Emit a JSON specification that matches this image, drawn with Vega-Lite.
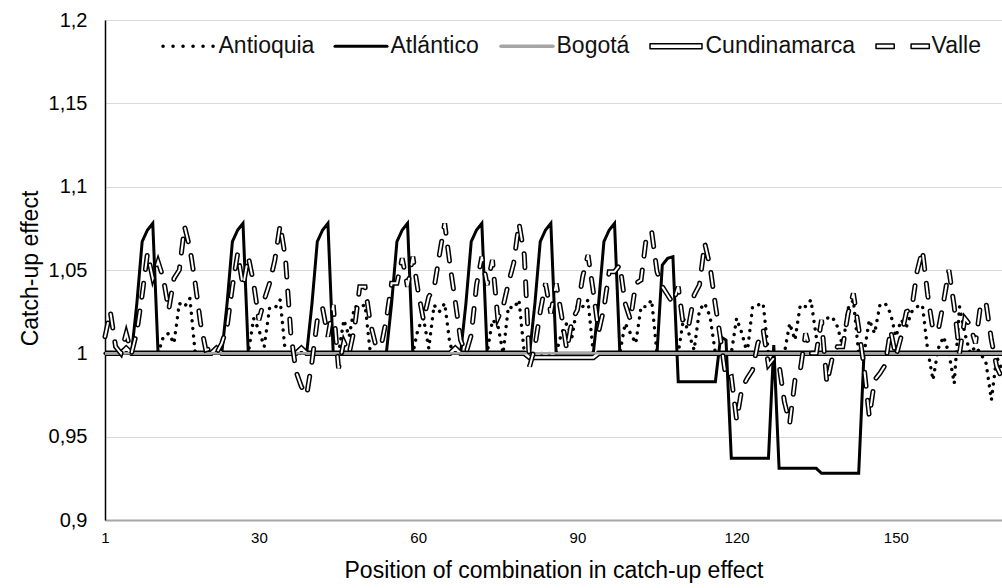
{
"$schema":"https://vega.github.io/schema/vega-lite/v6.json",
"width":897,"height":500,
"autosize":{"type":"none"},
"padding":{"left":105,"top":20,"right":0,"bottom":68},
"background":"white",
"config":{"view":{"stroke":null},"font":"Liberation Sans"},
"data":{"values":[
{"p":1,"An":1,"At":1,"Bo":1,"Cu":1,"Va":1.010},
{"p":2,"An":1,"At":1,"Bo":1,"Cu":1,"Va":1.025},
{"p":3,"An":1,"At":1,"Bo":1,"Cu":1,"Va":1.004},
{"p":4,"An":1,"At":1,"Bo":1,"Cu":1,"Va":1.000},
{"p":5,"An":1,"At":1,"Bo":1,"Cu":1.003,"Va":1.012},
{"p":6,"An":1,"At":1,"Bo":1,"Cu":1,"Va":1.000},
{"p":7,"An":1,"At":1.03,"Bo":1,"Cu":1,"Va":1.013},
{"p":8,"An":1,"At":1.067,"Bo":1,"Cu":1,"Va":1.035},
{"p":9,"An":1,"At":1.074,"Bo":1,"Cu":1,"Va":1.060},
{"p":10,"An":1,"At":1.078,"Bo":1,"Cu":1,"Va":1.045},
{"p":11,"An":1,"At":1,"Bo":1,"Cu":1,"Va":1.055},
{"p":12,"An":1.010,"At":1,"Bo":1,"Cu":1,"Va":1.045},
{"p":13,"An":1.012,"At":1,"Bo":1,"Cu":1,"Va":1.026},
{"p":14,"An":1.006,"At":1,"Bo":1,"Cu":1,"Va":1.045},
{"p":15,"An":1.030,"At":1,"Bo":1,"Cu":1,"Va":1.050},
{"p":16,"An":1.028,"At":1,"Bo":1,"Cu":1,"Va":1.076},
{"p":17,"An":1.033,"At":1,"Bo":1,"Cu":1,"Va":1.063},
{"p":18,"An":1,"At":1,"Bo":1,"Cu":1,"Va":1.042},
{"p":19,"An":1,"At":1,"Bo":1,"Cu":1,"Va":1.018},
{"p":20,"An":1,"At":1,"Bo":1,"Cu":1,"Va":1.002},
{"p":21,"An":1,"At":1,"Bo":1,"Cu":1,"Va":1.003},
{"p":22,"An":1,"At":1,"Bo":1,"Cu":1.003,"Va":1.000},
{"p":23,"An":1,"At":1,"Bo":1,"Cu":1,"Va":1.006},
{"p":24,"An":1,"At":1.03,"Bo":1,"Cu":1,"Va":1.016},
{"p":25,"An":1,"At":1.067,"Bo":1,"Cu":1,"Va":1.040},
{"p":26,"An":1,"At":1.074,"Bo":1,"Cu":1,"Va":1.060},
{"p":27,"An":1,"At":1.078,"Bo":1,"Cu":1,"Va":1.040},
{"p":28,"An":1,"At":1,"Bo":1,"Cu":1,"Va":1.058},
{"p":29,"An":1.021,"At":1,"Bo":1,"Cu":1,"Va":1.042},
{"p":30,"An":1.014,"At":1,"Bo":1,"Cu":1,"Va":1.020},
{"p":31,"An":1.004,"At":1,"Bo":1,"Cu":1,"Va":1.032},
{"p":32,"An":1.027,"At":1,"Bo":1,"Cu":1,"Va":1.042},
{"p":33,"An":1.027,"At":1,"Bo":1,"Cu":1,"Va":1.056},
{"p":34,"An":1.032,"At":1,"Bo":1,"Cu":1,"Va":1.077},
{"p":35,"An":1,"At":1,"Bo":1,"Cu":1,"Va":1.057},
{"p":36,"An":1,"At":1,"Bo":1,"Cu":1,"Va":1.012},
{"p":37,"An":1,"At":1,"Bo":1,"Cu":1,"Va":0.989},
{"p":38,"An":1,"At":1,"Bo":1,"Cu":1.003,"Va":0.980},
{"p":39,"An":1,"At":1,"Bo":1,"Cu":1,"Va":0.975},
{"p":40,"An":1,"At":1.03,"Bo":1,"Cu":1,"Va":0.995},
{"p":41,"An":1,"At":1.067,"Bo":1,"Cu":1,"Va":1.020},
{"p":42,"An":1,"At":1.074,"Bo":1,"Cu":1,"Va":1.027},
{"p":43,"An":1,"At":1.078,"Bo":1,"Cu":1,"Va":1.010},
{"p":44,"An":1,"At":1,"Bo":1,"Cu":1,"Va":1.029},
{"p":45,"An":1,"At":1,"Bo":1,"Cu":1,"Va":0.991},
{"p":46,"An":1.020,"At":1,"Bo":1,"Cu":1,"Va":1.007},
{"p":47,"An":1.010,"At":1,"Bo":1,"Cu":1,"Va":1.000},
{"p":48,"An":1.028,"At":1,"Bo":1,"Cu":1,"Va":1.015},
{"p":49,"An":1.028,"At":1,"Bo":1,"Cu":1,"Va":1.040},
{"p":50,"An":1.029,"At":1,"Bo":1,"Cu":1,"Va":1.040},
{"p":51,"An":1,"At":1,"Bo":1,"Cu":1,"Va":1.018},
{"p":52,"An":1,"At":1,"Bo":1,"Cu":1,"Va":1.005},
{"p":53,"An":1,"At":1,"Bo":1,"Cu":1,"Va":1.004},
{"p":54,"An":1,"At":1,"Bo":1,"Cu":1,"Va":1.020},
{"p":55,"An":1,"At":1.03,"Bo":1,"Cu":1,"Va":1.042},
{"p":56,"An":1,"At":1.067,"Bo":1,"Cu":1,"Va":1.042},
{"p":57,"An":1,"At":1.074,"Bo":1,"Cu":1,"Va":1.057},
{"p":58,"An":1,"At":1.078,"Bo":1,"Cu":1,"Va":1.040},
{"p":59,"An":1,"At":1,"Bo":1,"Cu":1,"Va":1.058},
{"p":60,"An":1.015,"At":1,"Bo":1,"Cu":1,"Va":1.037},
{"p":61,"An":1.021,"At":1,"Bo":1,"Cu":1,"Va":1.020},
{"p":62,"An":1.003,"At":1,"Bo":1,"Cu":1,"Va":1.034},
{"p":63,"An":1.029,"At":1,"Bo":1,"Cu":1,"Va":1.039},
{"p":64,"An":1.025,"At":1,"Bo":1,"Cu":1,"Va":1.059},
{"p":65,"An":1.030,"At":1,"Bo":1,"Cu":1,"Va":1.078},
{"p":66,"An":1.005,"At":1,"Bo":1,"Cu":1,"Va":1.053},
{"p":67,"An":1,"At":1,"Bo":1,"Cu":1.003,"Va":1.031},
{"p":68,"An":1,"At":1,"Bo":1,"Cu":1,"Va":1.008},
{"p":69,"An":1,"At":1.03,"Bo":1,"Cu":1,"Va":1.000},
{"p":70,"An":1,"At":1.067,"Bo":1,"Cu":1,"Va":1.011},
{"p":71,"An":1,"At":1.074,"Bo":1,"Cu":1,"Va":1.041},
{"p":72,"An":1,"At":1.078,"Bo":1,"Cu":1,"Va":1.058},
{"p":73,"An":1,"At":1,"Bo":1,"Cu":1,"Va":1.041},
{"p":74,"An":1.020,"At":1,"Bo":1,"Cu":1,"Va":1.056},
{"p":75,"An":1.017,"At":1,"Bo":1,"Cu":1,"Va":1.021},
{"p":76,"An":1,"At":1,"Bo":1,"Cu":1,"Va":1.028},
{"p":77,"An":1.028,"At":1,"Bo":1,"Cu":1,"Va":1.042},
{"p":78,"An":1.027,"At":1,"Bo":1,"Cu":1,"Va":1.054},
{"p":79,"An":1.032,"At":1,"Bo":1,"Cu":1,"Va":1.078},
{"p":80,"An":1,"At":1,"Bo":1,"Cu":1,"Va":1.059},
{"p":81,"An":1,"At":1,"Bo":1,"Cu":0.9975,"Va":0.992},
{"p":82,"An":1,"At":1.03,"Bo":1,"Cu":0.9975,"Va":1.004},
{"p":83,"An":1,"At":1.067,"Bo":1,"Cu":0.9975,"Va":1.025},
{"p":84,"An":1,"At":1.074,"Bo":1,"Cu":0.9975,"Va":1.042},
{"p":85,"An":1,"At":1.078,"Bo":1,"Cu":0.9975,"Va":1.024},
{"p":86,"An":1,"At":1,"Bo":1,"Cu":0.9975,"Va":1.042},
{"p":87,"An":1.012,"At":1,"Bo":1,"Cu":0.9975,"Va":1.023},
{"p":88,"An":1.018,"At":1,"Bo":1,"Cu":0.9975,"Va":1.002},
{"p":89,"An":1.010,"At":1,"Bo":1,"Cu":0.9975,"Va":1.020},
{"p":90,"An":1.029,"At":1,"Bo":1,"Cu":0.9975,"Va":1.026},
{"p":91,"An":1.028,"At":1,"Bo":1,"Cu":0.9975,"Va":1.046},
{"p":92,"An":1.032,"At":1,"Bo":1,"Cu":0.9975,"Va":1.059},
{"p":93,"An":1,"At":1,"Bo":1,"Cu":0.9975,"Va":1.037},
{"p":94,"An":1,"At":1.03,"Bo":1,"Cu":1,"Va":1.013},
{"p":95,"An":1,"At":1.067,"Bo":1,"Cu":1,"Va":1.027},
{"p":96,"An":1,"At":1.074,"Bo":1,"Cu":1,"Va":1.049},
{"p":97,"An":1,"At":1.078,"Bo":1,"Cu":1,"Va":1.049},
{"p":98,"An":1,"At":1,"Bo":1,"Cu":1,"Va":1.053},
{"p":99,"An":1.018,"At":1,"Bo":1,"Cu":1,"Va":1.030},
{"p":100,"An":1.012,"At":1,"Bo":1,"Cu":1,"Va":1.020},
{"p":101,"An":1.006,"At":1,"Bo":1,"Cu":1,"Va":1.042},
{"p":102,"An":1.028,"At":1,"Bo":1,"Cu":1,"Va":1.044},
{"p":103,"An":1.028,"At":1,"Bo":1,"Cu":1,"Va":1.070},
{"p":104,"An":1.032,"At":1,"Bo":1,"Cu":1,"Va":1.073},
{"p":105,"An":1,"At":1,"Bo":1,"Cu":1,"Va":1.049},
{"p":106,"An":1,"At":1.053,"Bo":1,"Cu":1,"Va":1.040},
{"p":107,"An":1,"At":1.057,"Bo":1,"Cu":1,"Va":1.035},
{"p":108,"An":1,"At":1.058,"Bo":1,"Cu":1,"Va":1.030},
{"p":109,"An":1,"At":0.983,"Bo":1,"Cu":1,"Va":1.040},
{"p":110,"An":1.021,"At":0.983,"Bo":1,"Cu":1,"Va":1.016},
{"p":111,"An":1.012,"At":0.983,"Bo":1,"Cu":1,"Va":1.017},
{"p":112,"An":1.002,"At":0.983,"Bo":1,"Cu":1,"Va":1.035},
{"p":113,"An":1.026,"At":0.983,"Bo":1,"Cu":1,"Va":1.041},
{"p":114,"An":1.030,"At":0.983,"Bo":1,"Cu":1,"Va":1.066},
{"p":115,"An":1.022,"At":0.983,"Bo":1,"Cu":1,"Va":1.052},
{"p":116,"An":1,"At":0.983,"Bo":1,"Cu":1,"Va":1.029},
{"p":117,"An":1,"At":1.010,"Bo":1,"Cu":1,"Va":1.008},
{"p":118,"An":1,"At":1.008,"Bo":1,"Cu":1,"Va":0.985},
{"p":119,"An":1,"At":0.937,"Bo":1,"Cu":1,"Va":0.986},
{"p":120,"An":1.021,"At":0.937,"Bo":1,"Cu":1,"Va":0.960},
{"p":121,"An":1.012,"At":0.937,"Bo":1,"Cu":1,"Va":0.979},
{"p":122,"An":1,"At":0.937,"Bo":1,"Cu":1,"Va":0.985},
{"p":123,"An":1.028,"At":0.937,"Bo":1,"Cu":1,"Va":0.990},
{"p":124,"An":1.029,"At":0.937,"Bo":1,"Cu":1,"Va":1.006},
{"p":125,"An":1.030,"At":0.937,"Bo":1,"Cu":1,"Va":1.014},
{"p":126,"An":1,"At":0.937,"Bo":1,"Cu":1,"Va":0.993},
{"p":127,"An":1,"At":1.005,"Bo":1,"Cu":1,"Va":0.997},
{"p":128,"An":1,"At":0.931,"Bo":1,"Cu":1,"Va":0.993},
{"p":129,"An":1,"At":0.931,"Bo":1,"Cu":1,"Va":0.971},
{"p":130,"An":1.018,"At":0.931,"Bo":1,"Cu":1,"Va":0.958},
{"p":131,"An":1.008,"At":0.931,"Bo":1,"Cu":1,"Va":0.984},
{"p":132,"An":1.029,"At":0.931,"Bo":1,"Cu":1,"Va":0.990},
{"p":133,"An":1.028,"At":0.931,"Bo":1,"Cu":1,"Va":1.012},
{"p":134,"An":1.032,"At":0.931,"Bo":1,"Cu":1,"Va":1.000},
{"p":135,"An":1.010,"At":0.931,"Bo":1,"Cu":1,"Va":1.000},
{"p":136,"An":1.018,"At":0.928,"Bo":1,"Cu":1,"Va":1.020},
{"p":137,"An":1.021,"At":0.928,"Bo":1,"Cu":1,"Va":0.982},
{"p":138,"An":1.022,"At":0.928,"Bo":1,"Cu":1,"Va":0.997},
{"p":139,"An":1.016,"At":0.928,"Bo":1,"Cu":1,"Va":1.004},
{"p":140,"An":1.004,"At":0.928,"Bo":1,"Cu":1,"Va":1.004},
{"p":141,"An":1.027,"At":0.928,"Bo":1,"Cu":1,"Va":1.024},
{"p":142,"An":1.032,"At":0.928,"Bo":1,"Cu":1,"Va":1.036},
{"p":143,"An":1,"At":0.928,"Bo":1,"Cu":1,"Va":1.015},
{"p":144,"An":1,"At":1,"Bo":1,"Cu":1,"Va":0.992},
{"p":145,"An":1.020,"At":1,"Bo":1,"Cu":1,"Va":0.962},
{"p":146,"An":1.012,"At":1,"Bo":1,"Cu":1,"Va":0.984},
{"p":147,"An":1.029,"At":1,"Bo":1,"Cu":1,"Va":0.988},
{"p":148,"An":1.030,"At":1,"Bo":1,"Cu":1,"Va":0.993},
{"p":149,"An":1.024,"At":1,"Bo":1,"Cu":1,"Va":1.014},
{"p":150,"An":1.010,"At":1,"Bo":1,"Cu":1,"Va":0.998},
{"p":151,"An":1.020,"At":1,"Bo":1,"Cu":1,"Va":1.010},
{"p":152,"An":1.016,"At":1,"Bo":1,"Cu":1,"Va":1.025},
{"p":153,"An":1.025,"At":1,"Bo":1,"Cu":1,"Va":1.027},
{"p":154,"An":1.028,"At":1,"Bo":1,"Cu":1,"Va":1.049},
{"p":155,"An":1.029,"At":1,"Bo":1,"Cu":1,"Va":1.062},
{"p":156,"An":1.002,"At":1,"Bo":1,"Cu":1,"Va":1.035},
{"p":157,"An":0.984,"At":1,"Bo":1,"Cu":1,"Va":1.014},
{"p":158,"An":1.003,"At":1,"Bo":1,"Cu":1,"Va":1.014},
{"p":159,"An":1.010,"At":1,"Bo":1,"Cu":1,"Va":1.031},
{"p":160,"An":1,"At":1,"Bo":1,"Cu":1,"Va":1.050},
{"p":161,"An":0.982,"At":1,"Bo":1,"Cu":1,"Va":1.028},
{"p":162,"An":1.028,"At":1,"Bo":1,"Cu":1,"Va":1.000},
{"p":163,"An":1.012,"At":1,"Bo":1,"Cu":1,"Va":1.021},
{"p":164,"An":1,"At":1,"Bo":1,"Cu":1,"Va":1.017},
{"p":165,"An":1.004,"At":1,"Bo":1,"Cu":1,"Va":1.006},
{"p":166,"An":1,"At":1,"Bo":1,"Cu":1,"Va":1.030},
{"p":167,"An":0.994,"At":1,"Bo":1,"Cu":1,"Va":1.030},
{"p":168,"An":0.972,"At":1,"Bo":1,"Cu":1,"Va":1.008},
{"p":169,"An":0.998,"At":1,"Bo":1,"Cu":1,"Va":0.992},
{"p":170,"An":0.990,"At":1,"Bo":1,"Cu":1,"Va":0.985}
]},
"transform":[{"fold":["An","At","Bo","Cu","Va"],"as":["series","v"]}],
"encoding":{
  "x":{"field":"p","type":"quantitative",
       "scale":{"domain":[1,170],"nice":false,"zero":false},
       "axis":{"values":[1,30,60,90,120,150],"grid":false,"ticks":false,"labelFlush":false,
               "domainColor":"#a6a6a6","domainWidth":2,"labelFontSize":15,"labelColor":"#000","labelPadding":10,
               "title":"Position of combination in catch-up effect","titleFontSize":23,"titleFontWeight":"normal",
               "titleColor":"#000","titleY":50,"titleBaseline":"middle"}},
  "y":{"field":"v","type":"quantitative",
       "scale":{"domain":[0.9,1.2],"nice":false,"zero":false},
       "axis":{"values":[0.9,0.95,1,1.05,1.1,1.15,1.2],"labelExpr":"replace(format(datum.value,'~g'),'.',',')",
               "ticks":false,"grid":true,"gridColor":"#d9d9d9","gridWidth":1.2,
               "domainColor":"#000","domainWidth":1.5,"labelFontSize":20,"labelColor":"#000","labelPadding":18,
               "title":"Catch-up effect","titleFontSize":23,"titleFontWeight":"normal","titleColor":"#000",
               "titleX":-75,"titleY":248,"titleAngle":-90,"titleAlign":"center","titleBaseline":"middle"}}
},
"layer":[
 {"transform":[{"filter":"datum.series === 'An'"}],
  "mark":{"type":"line","strokeWidth":3.4,"strokeDash":[0.1,7.5],"strokeCap":"round"},
  "encoding":{"stroke":{"datum":"Antioquia",
     "scale":{"domain":["Antioquia","Atlántico","Bogotá","Cundinamarca","Valle"],"range":["#000","#000","#a6a6a6","#000","#000"]},
     "legend":{"orient":"none","legendX":72.5,"legendY":14.5,"direction":"horizontal","title":null,"padding":0,
        "labelFont":"Liberation Sans","labelFontSize":23,"labelColor":"#111","labelOffset":18,"columnPadding":19,
        "symbolSize":2704,"symbolStrokeWidth":1.5,
        "encode":{"symbols":{"update":{
          "size":{"value":2704},
          "shape":{"signal":"datum.value === 'Cundinamarca' ? 'M-1,-0.1H1V0.1H-1Z' : (datum.value === 'Valle' ? 'M-1,-0.09H-0.3V0.09H-1Z M0.35,-0.09H1.05V0.09H0.35Z' : 'M-1,0H1')"},
          "fill":{"signal":"(datum.value === 'Cundinamarca' || datum.value === 'Valle') ? 'white' : 'transparent'"},
          "stroke":{"signal":"datum.value === 'Bogotá' ? '#a6a6a6' : 'black'"},
          "strokeWidth":{"signal":"datum.value === 'Antioquia' ? 3.5 : (datum.value === 'Atlántico' ? 3 : (datum.value === 'Bogotá' ? 3.5 : 1.5))"},
          "strokeDash":{"signal":"datum.value === 'Antioquia' ? [0.1, 9.9] : [100, 0]"},
          "strokeCap":{"value":"round"},
          "strokeJoin":{"value":"round"},
          "opacity":{"value":1}
        }}}
     }}}},
 {"transform":[{"filter":"datum.series === 'At'"}],
  "mark":{"type":"line","stroke":"#000","strokeWidth":3}},
 {"transform":[{"filter":"datum.series === 'Cu'"}],
  "mark":{"type":"line","stroke":"#000","strokeWidth":5.5}},
 {"transform":[{"filter":"datum.series === 'Cu'"}],
  "mark":{"type":"line","stroke":"#fff","strokeWidth":2.5}},
 {"transform":[{"filter":"datum.series === 'Bo'"}],
  "mark":{"type":"line","stroke":"#a6a6a6","strokeWidth":2.5}},
 {"transform":[{"filter":"datum.series === 'Va'"}],
  "mark":{"type":"line","stroke":"#000","strokeWidth":5,"strokeDash":[14,14],"strokeCap":"round"}},
 {"transform":[{"filter":"datum.series === 'Va'"}],
  "mark":{"type":"line","stroke":"#fff","strokeWidth":2,"strokeDash":[14,14],"strokeCap":"round"}},
 {"data":{"values":[{"b":1}]},
  "mark":{"type":"rule","color":"#000","strokeWidth":1.5},
  "encoding":{"x":{"datum":1},"x2":{"datum":170},"y":{"datum":1.2}}}
]
}
